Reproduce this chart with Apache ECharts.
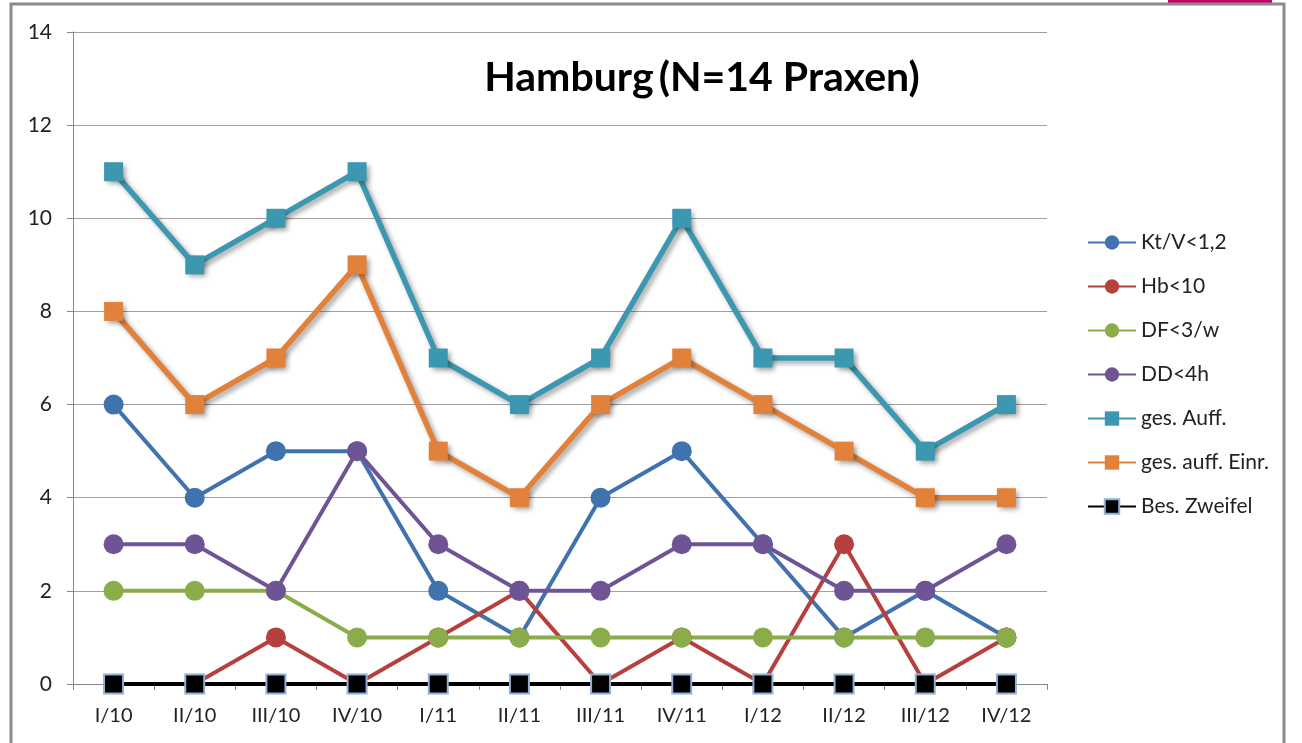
<!DOCTYPE html>
<html><head><meta charset="utf-8">
<script src="https://cdn.jsdelivr.net/npm/echarts@6/dist/echarts.min.js"></script>
<style>html,body{margin:0;padding:0;background:#fff}#c{width:1302px;height:743px}</style>
</head><body><div id="c"></div>
<script>
const categories = ['I/10','II/10','III/10','IV/10','I/11','II/11','III/11','IV/11','I/12','II/12','III/12','IV/12'];
const ktv   = [6,4,5,5,2,1,4,5,3,1,2,1];
const hb    = [0,0,1,0,1,2,0,1,0,3,0,1];
const df    = [2,2,2,1,1,1,1,1,1,1,1,1];
const dd    = [3,3,2,5,3,2,2,3,3,2,2,3];
const gesAuff = [11,9,10,11,7,6,7,10,7,7,5,6];
const gesAuffEinr = [8,6,7,9,5,4,6,7,6,5,4,4];
const besZweifel = [0,0,0,0,0,0,0,0,0,0,0,0];
const yTicks = [0,2,4,6,8,10,12,14];
const titleText = 'Hamburg\u2009(N=14 Praxen)';

const FONT = 'Lato';
function circleSeries(name, data, color) {
  return { name, type: 'line', data, symbol: 'circle', symbolSize: 20,
    itemStyle: { color }, lineStyle: { color, width: 4 }, emphasis: { disabled: true } };
}
function squareSeries(name, data, color, shadow, border) {
  const s = { name, type: 'line', data, symbol: 'rect', symbolSize: 19,
    itemStyle: { color }, lineStyle: { color, width: shadow ? 5.5 : 4 }, emphasis: { disabled: true } };
  if (shadow) {
    s.lineStyle.shadowColor = 'rgba(0,0,0,0.35)'; s.lineStyle.shadowBlur = 5;
    s.lineStyle.shadowOffsetX = 3; s.lineStyle.shadowOffsetY = 3;
    s.itemStyle.shadowColor = 'rgba(0,0,0,0.35)'; s.itemStyle.shadowBlur = 5;
    s.itemStyle.shadowOffsetX = 3; s.itemStyle.shadowOffsetY = 3;
  }
  if (border) { s.itemStyle.borderColor = border; s.itemStyle.borderWidth = 2; }
  return s;
}
const chart = echarts.init(document.getElementById('c'), null, { renderer: 'canvas' });
chart.setOption({
  animation: false,
  backgroundColor: '#fff',
  textStyle: { fontFamily: FONT },
  title: { text: titleText, left: 697, top: 52, textAlign: 'center',
    textStyle: { fontFamily: FONT, fontWeight: 'bold', fontSize: 41, color: '#000' } },
  grid: { left: 73, right: 255, top: 32, bottom: 59, containLabel: false },
  legend: { orient: 'vertical', left: 1082, top: 227, itemWidth: 48, itemHeight: 18, itemGap: 23,
    textStyle: { fontFamily: FONT, fontSize: 21, lineHeight: 18, color: '#222' }, selectedMode: false },
  xAxis: { type: 'category', data: categories, boundaryGap: true,
    axisLine: { lineStyle: { color: '#868686', width: 1 } },
    axisTick: { show: true, length: 6, lineStyle: { color: '#868686' } },
    axisLabel: { margin: 22, fontFamily: FONT, fontSize: 20, color: '#222' } },
  yAxis: { type: 'value', min: 0, max: 14, interval: 2,
    axisLine: { show: true, lineStyle: { color: '#868686', width: 1 } },
    axisTick: { show: true, length: 6, lineStyle: { color: '#868686' } },
    axisLabel: { margin: 21, fontFamily: FONT, fontSize: 21, color: '#222',
      formatter: v => yTicks.includes(v) ? String(v) : '' },
    splitLine: { lineStyle: { color: '#a0a0a0', width: 1 } } },
  series: [
    circleSeries('Kt/V<1,2', ktv, '#4072ad'),
    circleSeries('Hb<10', hb, '#b5403d'),
    circleSeries('DF<3/w', df, '#8aac4a'),
    circleSeries('DD<4h', dd, '#6f5495'),
    squareSeries('ges. Auff.', gesAuff, '#3c98b0', true),
    squareSeries('ges. auff. Einr.', gesAuffEinr, '#e2823a', true),
    squareSeries('Bes. Zweifel', besZweifel, '#000000', false, '#8fb0d8')
  ],
  graphic: [
    { type: 'rect', shape: { x: 1168, y: 0, width: 104, height: 4 }, style: { fill: '#c8006f' } },
    { type: 'polyline', shape: { points: [[11, 743], [11, 4], [1284, 4], [1284, 743]] },
      style: { stroke: '#8a8a8a', lineWidth: 3, fill: null } }
  ]
});
</script></body></html>
